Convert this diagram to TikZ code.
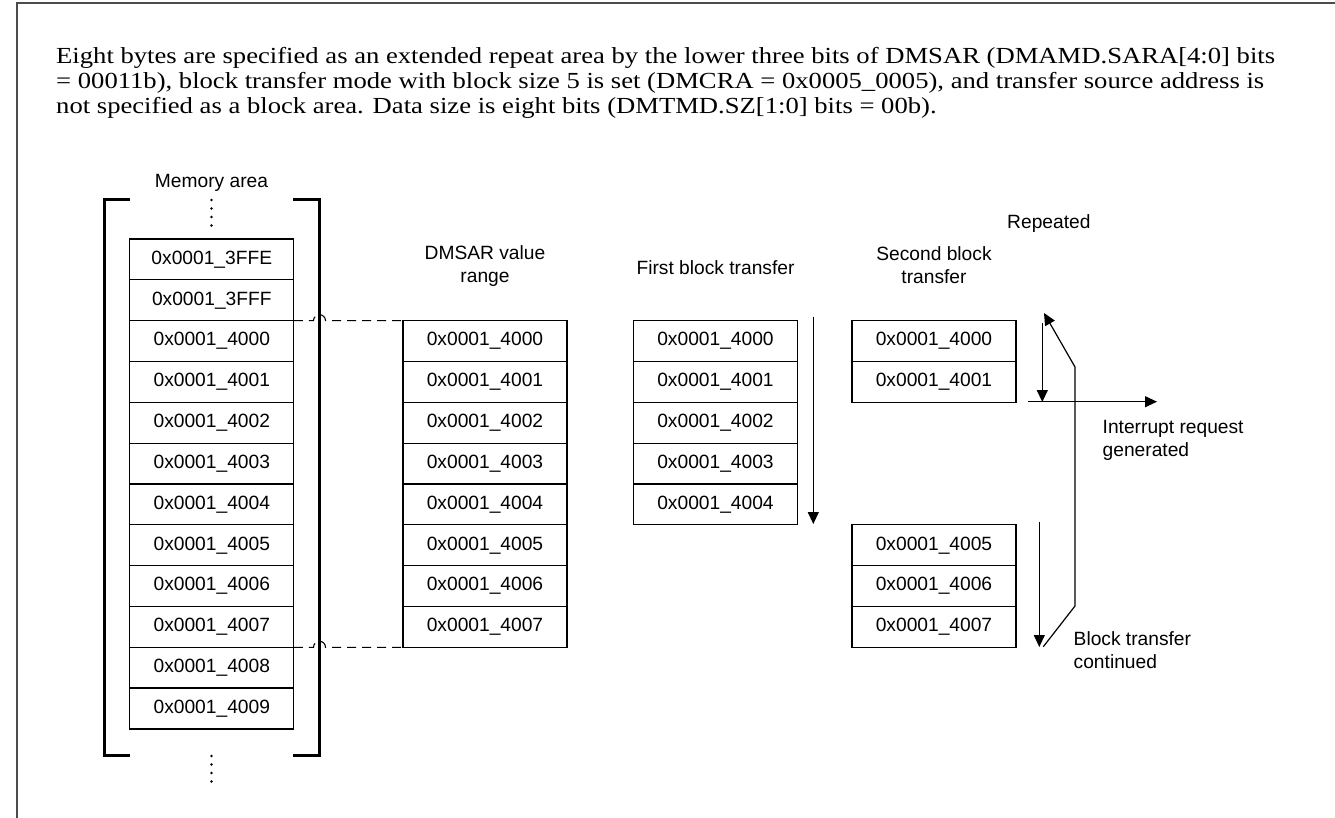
\documentclass[tikz,border=0pt]{standalone}
\usepackage{fontspec}
\setmainfont{Liberation Serif}
\newfontfamily\arialf{Liberation Sans}
\usetikzlibrary{arrows.meta}
\newcommand{\bodyline}[1]{\scalebox{1.158}[1]{#1}}
\begin{document}
\begin{tikzpicture}[x=1pt,y=-1pt,
  cell/.style={draw, line width=1.3pt, minimum width=164pt, minimum height=40.83pt, inner sep=0pt, outer sep=0pt, font=\arialf\fontsize{19.2}{22}\selectfont},
  lbl/.style={font=\arialf\fontsize{19.2}{23}\selectfont, inner sep=0pt, align=center},
  lbll/.style={font=\arialf\fontsize{19.2}{23}\selectfont, inner sep=0pt, align=left},
  body/.style={font=\fontsize{23}{25}\selectfont, inner sep=0pt, anchor=base west},
  arr/.style={line width=1.2pt, -{Triangle[length=12pt,width=11pt]}},
  brk/.style={line width=3pt},
  dsh/.style={line width=1.1pt, dash pattern=on 9pt off 6pt}]
\useasboundingbox (0,0) rectangle (1335,818);
% frame
\draw[line width=1.2pt, gray!60!black] (17,818) -- (17,3) -- (1335,3);
% body text
\node[body] (t1) at (56,63.3) {\bodyline{Eight bytes are specified as an extended repeat area by the lower three bits of DMSAR (DMAMD.SARA[4:0] bits}};
\node[body] (t2) at (56,88.3) {\bodyline{= 00011b), block transfer mode with block size 5 is set (DMCRA = 0x0005\_0005), and transfer source address is}};
\node[body] (t3) at (56,113.3) {\bodyline{not specified as a block area. Data size is eight bits (DMTMD.SZ[1:0] bits = 00b).}};
% headings
\node[lbl] (hmem) at (211.5,183) {Memory area};
\node[lbl] (hdms) at (485,266.5) {DMSAR value\\range};
\node[lbl] (hfst) at (715.5,268) {First block transfer};
\node[lbl] (hsnd) at (934,265.5) {Second block\\transfer};
\node[lbl, anchor=west] (hrep) at (1007,224) {Repeated};
% memory column
\foreach \i/\t in {0/3FFE,1/3FFF,2/4000,3/4001,4/4002,5/4003,6/4004,7/4005,8/4006,9/4007,10/4008,11/4009}
  \node[cell] (m\i) at (211.8,{239+40.83*(\i+0.5)}) {0x0001\_\t};
% DMSAR column
\foreach \i/\t in {2/4000,3/4001,4/4002,5/4003,6/4004,7/4005,8/4006,9/4007}
  \node[cell] (d\i) at (485,{239+40.83*(\i+0.5)}) {0x0001\_\t};
% first block
\foreach \i/\t in {2/4000,3/4001,4/4002,5/4003,6/4004}
  \node[cell] (f\i) at (715.5,{239+40.83*(\i+0.5)}) {0x0001\_\t};
% second block
\foreach \i/\t in {2/4000,3/4001,7/4005,8/4006,9/4007}
  \node[cell] (s\i) at (934,{239+40.83*(\i+0.5)}) {0x0001\_\t};
% brackets
\draw[brk] (130,199.5) -- (104.5,199.5) -- (104.5,755.5) -- (130,755.5);
\draw[brk] (293,199.5) -- (319.5,199.5) -- (319.5,755.5) -- (293,755.5);
% dots
\foreach \y in {200,208.5,217,225.5,756,764.5,773,781.5}
  \fill (211.5,\y) circle[radius=1.4pt];
% dashed connectors with hop
\draw[dsh] (m2.north east) -- (313.5,{239+40.83*2}) arc[start angle=180,end angle=360,radius=6] -- (d2.north west);
\draw[dsh] (m9.south east) -- (313.5,{239+40.83*10}) arc[start angle=180,end angle=360,radius=6] -- (d9.south west);
% arrows
\coordinate (fa) at (813.3,316.7);
\coordinate (fb) at (813.3,524);
\draw[arr] (fa) -- (fb);
\coordinate (r0) at (1043.3,646.7);
\coordinate (r1) at (1075,606);
\coordinate (r2) at (1075,367);
\coordinate (r3) at (1044,313);
\draw[arr] (r0) -- (r1) -- (r2) -- (r3);
\coordinate (va) at (1042.3,323);
\coordinate (vb) at (1042.3,402);
\draw[arr] (va) -- (vb);
\coordinate (ha) at (1028,401.7);
\coordinate (hb) at (1157,401.7);
\draw[arr] (ha) -- (hb);
\coordinate (wa) at (1039.3,521.7);
\coordinate (wb) at (1039.3,647);
\draw[arr] (wa) -- (wb);
% labels
\node[lbll, anchor=north west] (lint) at (1102.5,420) {Interrupt request\\generated};
\node[lbll, anchor=north west] (lblk) at (1073.5,631) {Block transfer\\continued};
\end{tikzpicture}
\end{document}
